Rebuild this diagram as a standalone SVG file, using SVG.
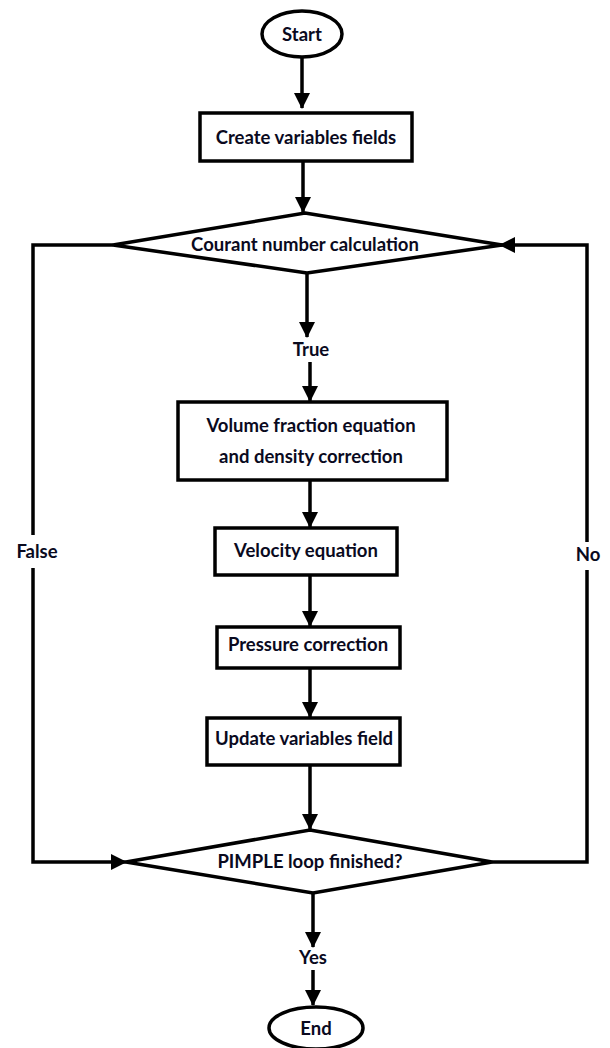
<svg xmlns="http://www.w3.org/2000/svg" width="610" height="1048" viewBox="0 0 610 1048">
<style>
.shape{fill:#fff;stroke:#000;stroke-width:3.5}
.t{font-family:Lato,"Open Sans","Liberation Sans",sans-serif;font-weight:bold;font-size:18.5px;fill:#0a0a1e;text-anchor:middle}
.c{fill:none;stroke:#000;stroke-width:3.5}
</style>
<defs>
<marker id="ah" markerUnits="userSpaceOnUse" markerWidth="18" markerHeight="18" refX="15" refY="8" orient="auto" viewBox="0 0 18 16">
<path d="M0,0 L16,8 L0,16 z" fill="#000"/>
</marker>
</defs>
<rect width="610" height="1048" fill="#fff"/>
<g id="connectors">
<line class="c" x1="302" y1="57" x2="302" y2="108" marker-end="url(#ah)"/>
<line class="c" x1="303" y1="162" x2="303" y2="212" marker-end="url(#ah)"/>
<line class="c" x1="307" y1="274" x2="307" y2="337" marker-end="url(#ah)"/>
<line class="c" x1="310" y1="362" x2="310" y2="401" marker-end="url(#ah)"/>
<line class="c" x1="310" y1="480" x2="310" y2="527" marker-end="url(#ah)"/>
<line class="c" x1="310" y1="575" x2="310" y2="626" marker-end="url(#ah)"/>
<line class="c" x1="310" y1="668" x2="310" y2="717" marker-end="url(#ah)"/>
<line class="c" x1="310" y1="765" x2="310" y2="829" marker-end="url(#ah)"/>
<line class="c" x1="313" y1="893" x2="313" y2="947" marker-end="url(#ah)"/>
<line class="c" x1="313" y1="970" x2="313" y2="1005" marker-end="url(#ah)"/>
<polyline class="c" points="113,245 33,245 33,535"/>
<polyline class="c" points="33,568 33,862 126,862" marker-end="url(#ah)"/>
<polyline class="c" points="492,862 587,862 587,570"/>
<polyline class="c" points="587,542 587,245 500,245" marker-end="url(#ah)"/>
<text class="t" x="37" y="558">False</text>
<text class="t" x="588" y="561">No</text>
<text class="t" x="311" y="356">True</text>
<text class="t" x="313" y="964">Yes</text>
</g>
<g id="start">
<ellipse class="shape" cx="302" cy="34" rx="40" ry="23"/>
<text class="t" x="302" y="41">Start</text>
</g>
<g id="create">
<rect class="shape" x="200" y="113" width="212" height="48"/>
<text class="t" x="306" y="144">Create variables fields</text>
</g>
<g id="courant">
<polygon class="shape" points="305,213 502,245 307,273 113,245"/>
<text class="t" x="305" y="251">Courant number calculation</text>
</g>
<g id="volume">
<rect class="shape" x="178" y="402" width="269" height="78"/>
<text class="t" x="311" y="432">Volume fraction equation</text>
<text class="t" x="311" y="463">and density correction</text>
</g>
<g id="velocity">
<rect class="shape" x="215" y="528" width="182" height="47"/>
<text class="t" x="306" y="557">Velocity equation</text>
</g>
<g id="pressure">
<rect class="shape" x="217" y="627" width="183" height="41"/>
<text class="t" x="308" y="651">Pressure correction</text>
</g>
<g id="update">
<rect class="shape" x="207" y="718" width="193" height="47"/>
<text class="t" x="304" y="745">Update variables field</text>
</g>
<g id="pimple">
<polygon class="shape" points="310,830 492,862 313,893 126,862"/>
<text class="t" x="310" y="868">PIMPLE loop finished?</text>
</g>
<g id="end">
<ellipse class="shape" cx="316" cy="1028" rx="47" ry="21"/>
<text class="t" x="316" y="1035">End</text>
</g>
</svg>
